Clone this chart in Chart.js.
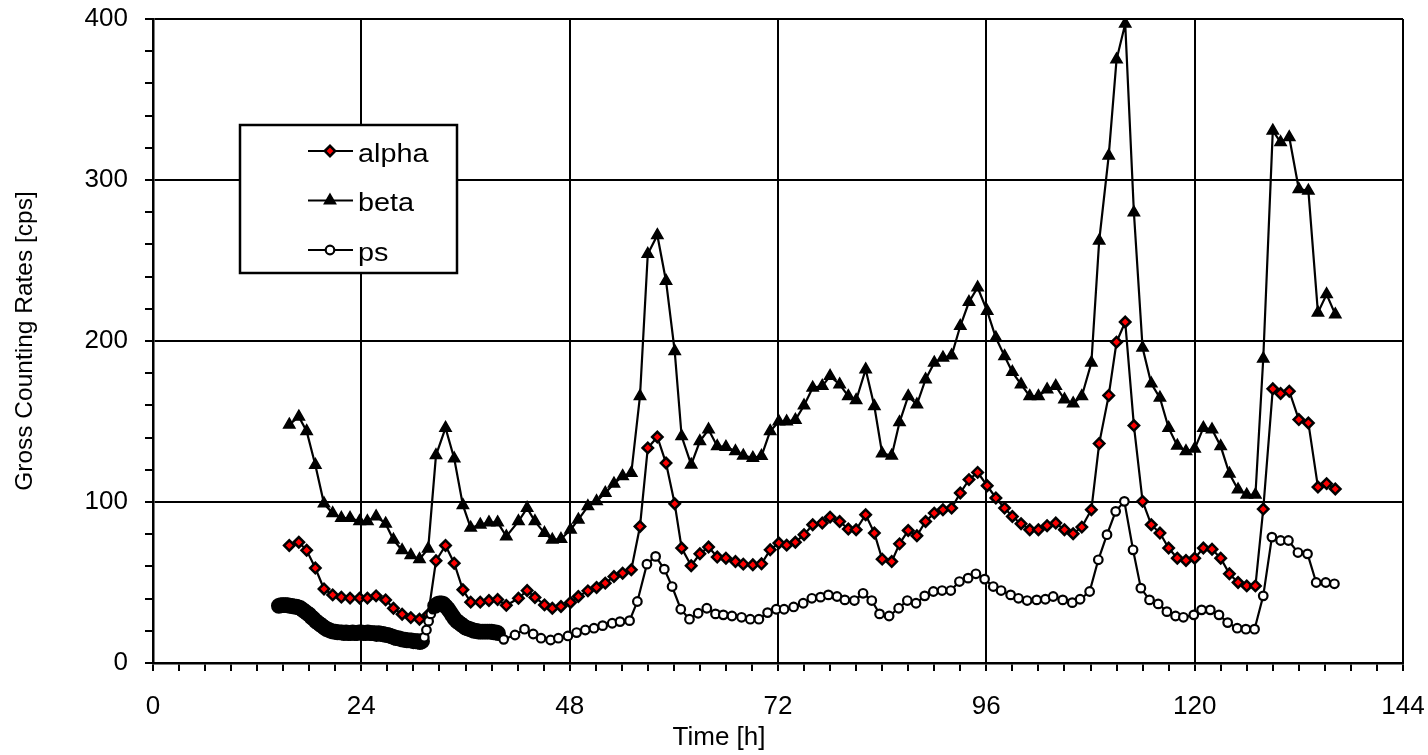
<!DOCTYPE html>
<html>
<head>
<meta charset="utf-8">
<script src="https://cdn.jsdelivr.net/npm/chart.js@4.4.1/dist/chart.umd.min.js"></script>
<style>
html,body{margin:0;padding:0;background:#ffffff;}
canvas{display:block;}
</style>
</head>
<body>
<canvas id="c" width="1428" height="755"></canvas>
<script>
// ---------------- data ----------------
// time stamps [h] shared by alpha and beta
const hours = [
  15.7, 16.8, 17.7, 18.7, 19.7, 20.7, 21.7, 22.7, 23.8, 24.7, 25.7, 26.8, 27.7, 28.7, 29.7, 30.7, 31.7, 32.6, 33.7, 34.7, 35.7, 36.6, 37.7, 38.7, 39.7, 40.7,
  42.1, 43.1, 44.0, 45.1, 46.0, 47.0, 48.1, 49.0, 50.1, 51.1, 52.1, 53.1, 54.1, 55.1, 56.1, 57.0, 58.1, 59.1, 60.1, 60.9,
  62.0, 63.0, 64.0, 65.0, 66.0, 67.1, 68.0, 69.1, 70.1, 71.1, 72.1, 73.0, 74.0, 75.0, 76.0, 77.1, 78.0, 79.1, 80.1, 81.0,
  82.1, 83.1, 84.0, 85.1, 86.0, 87.0, 88.0, 89.0, 90.0, 91.0, 92.0, 93.0, 94.0, 95.0, 96.1, 97.1, 98.1, 99.0, 100.0, 101.0,
  102.0, 103.0, 104.0, 105.0, 106.0, 107.0, 108.1, 109.0, 110.1, 111.0, 112.0, 113.0, 114.0, 115.0, 116.0, 117.0, 118.0, 119.0, 120.0, 121.0,
  122.0, 123.0, 124.0, 125.0, 126.0, 127.0, 127.9, 129.0, 129.9, 130.9, 132.0, 133.1, 134.2, 135.2, 136.2
];
const alphaValues = [
  73, 75, 70, 59, 46, 42.3, 40.9, 40.3, 40.3, 40.3, 41.7, 39.2, 34, 30.3, 28.2, 27.2, 30, 63.5, 73, 62, 45.5, 37.8, 37.8, 38.8, 39.4, 35.8,
  40.2, 45, 40.7, 36.1, 34, 35.1, 37.6, 41.3, 44.8, 46.9, 49.6, 53.7, 55.8, 57.9, 84.8, 133.6, 140.4, 124.2, 98.9, 71.4,
  60.4, 67.8, 72, 65.8, 65.1, 63, 61.4, 61, 61.6, 70.3, 74.5, 73.2, 75, 79.7, 85.9, 86.9, 90.6, 87.9, 83.2, 82.8,
  92.1, 80.7, 64.5, 63, 74, 82.3, 79, 87.9, 93.1, 95.2, 96.2, 105.6, 113.9, 118.4, 110.1, 102.5, 96.2, 91, 86.5, 82.8,
  82.8, 85.3, 86.9, 82.8, 80.3, 84.4, 95.2, 136.3, 166.2, 199.3, 211.8, 147.5, 100.4, 85.9, 80.7, 71.4, 65.1, 63.7, 65.1, 71.4,
  70.7, 65.1, 55.4, 50, 47.9, 47.9, 95.6, 170.3, 167.4, 168.8, 151.2, 149.1, 109.3, 111.4, 108.1
];
const betaValues = [
  148, 153, 144, 123, 99, 93, 90, 90, 88, 88, 91, 86.5, 76.5, 70, 67, 64.5, 71, 129, 146, 127, 98, 84, 85.9, 87.3, 87.3, 78.6,
  88, 96.2, 88, 80.7, 76.5, 77, 82.8, 89, 97.3, 100.4, 105.6, 111.4, 116, 118, 165.7, 254, 265.7, 237.3, 193.7, 140.8,
  123.2, 137.7, 145, 134.6, 134.2, 131.5, 128.8, 127.4, 128.5, 144, 150, 150, 151, 159.9, 170.9, 172, 178.2, 173, 165.7, 163.2,
  182.3, 159.5, 130.1, 128.8, 149.5, 165.7, 160.5, 176.1, 186.5, 189.6, 191, 209.3, 224.2, 233.2, 218.6, 202, 190.6, 180.7, 173, 165.7,
  165.7, 169.9, 172, 163.7, 161.2, 165.7, 186.5, 262.2, 315.1, 374.8, 397, 279.8, 195.8, 173.6, 164.7, 146, 135, 131.5, 133, 146,
  145, 134.6, 117.6, 107.7, 104.5, 104.5, 189, 330.6, 323.4, 326.5, 294.3, 293.3, 217.6, 229, 216.5
];
// ps: dense record (15 min) up to ~40 h, then hourly
const psHours = [
  14.5, 14.75, 15.0, 15.25, 15.5, 15.75, 16.0, 16.25, 16.5, 16.75, 17.0, 17.25, 17.5, 17.75, 18.0, 18.25, 18.5, 18.75, 19.0, 19.25,
  19.5, 19.75, 20.0, 20.25, 20.5, 20.75, 21.0, 21.25, 21.5, 21.75, 22.0, 22.25, 22.5, 22.75, 23.0, 23.25, 23.5, 23.75, 24.0, 24.25,
  24.5, 24.75, 25.0, 25.25, 25.5, 25.75, 26.0, 26.25, 26.5, 26.75, 27.0, 27.25, 27.5, 27.75, 28.0, 28.25, 28.5, 28.75, 29.0, 29.25,
  29.5, 29.75, 30.0, 30.25, 30.5, 30.75, 31.0, 31.25, 31.5, 31.75, 32.0, 32.25, 32.5, 32.75, 33.0, 33.25, 33.5, 33.75, 34.0, 34.25,
  34.5, 34.75, 35.0, 35.25, 35.5, 35.75, 36.0, 36.25, 36.5, 36.75, 37.0, 37.25, 37.5, 37.75, 38.0, 38.25, 38.5, 38.75, 39.0, 39.25,
  39.5, 39.75,
  40.4, 41.7, 42.8, 43.8, 44.7, 45.8, 46.7, 47.8, 48.8, 49.8, 50.8, 51.8, 52.9, 53.8, 54.9, 55.8, 56.9, 57.9, 58.9, 59.8,
  60.8, 61.8, 62.8, 63.8, 64.8, 65.7, 66.7, 67.8, 68.8, 69.8, 70.8, 71.8, 72.7, 73.8, 74.9, 75.9, 76.9, 77.8, 78.8, 79.7,
  80.8, 81.8, 82.8, 83.7, 84.8, 85.9, 86.9, 87.9, 88.9, 89.9, 90.9, 91.9, 92.9, 93.9, 94.8, 95.8, 96.8, 97.7, 98.8, 99.7,
  100.7, 101.8, 102.8, 103.7, 104.8, 105.9, 106.8, 107.9, 108.9, 109.9, 110.9, 111.9, 112.9, 113.8, 114.8, 115.8, 116.8, 117.8, 118.7, 119.9,
  120.8, 121.8, 122.8, 123.8, 124.9, 125.9, 126.9, 127.9, 128.9, 129.9, 130.8, 131.9, 133.0, 134.0, 135.1, 136.1
];
const psValues = [
  35.5, 36, 36, 36, 36, 35.5, 35.5, 35, 35, 34.5, 34, 33, 32, 31, 30, 28.5, 27.5, 26, 25, 24,
  23, 22, 21, 20.5, 20, 19.5, 19.5, 19, 19, 19, 18.5, 19, 18.5, 18.5, 19, 18.5, 18.5, 19, 19, 18.5,
  18.5, 19, 18.5, 18.5, 18.5, 18, 18.5, 18, 18, 17.5, 17.5, 17, 16.5, 16, 15.5, 15.5, 15, 14.5, 14.5, 14,
  14, 14, 13.5, 13.5, 13.5, 13, 13.5, 16, 20.5, 26, 30.5, 33.5, 35.5, 36.5, 37, 37, 36.5, 35, 33.5, 31.5,
  29.5, 27.5, 26, 25, 24, 23, 22, 21.5, 21, 20.5, 20, 20, 19.5, 19.5, 19.5, 19.5, 19.5, 19.5, 19.5, 19,
  19, 18.5,
  14.7, 17.4, 21, 18, 15.4, 14.3, 15.4, 16.8, 18.9, 20.5, 21.6, 23.2, 24.7, 25.7, 26.3, 38.2, 61.4, 66.2, 58.3, 47.5,
  33.4, 27.2, 30.9, 34, 30.5, 29.9, 29.2, 28.4, 27.2, 27.2, 31.3, 33.4, 33.4, 34.8, 37.1, 40.2, 40.9, 42.3, 41.3, 39.2,
  38.8, 43.3, 38.8, 30.5, 29.2, 34, 38.8, 37.1, 41.7, 44.4, 45, 45, 50.6, 52.7, 55.4, 52.1, 47.5, 45, 42.3, 40.2,
  38.8, 39.2, 39.6, 41.3, 39.2, 37.5, 39.6, 44.4, 64.1, 79.7, 94.2, 100.4, 70.3, 46.5, 39.2, 36.7, 31.9, 29.2, 28.4, 29.9,
  33, 33, 29.9, 25.1, 21.6, 21, 21, 41.7, 78.2, 76.1, 76.1, 68.6, 67.8, 50, 50, 49.2
];
const seriesNames = ['alpha', 'beta', 'ps'];
const xTickStep = 3, xLabelStep = 24, xMin = 0, xMax = 144;
const yTickStep = 20, yLabelStep = 100, yMin = 0, yMax = 400;
const xTitle = 'Time [h]';
const yTitle = 'Gross Counting Rates [cps]';

// ---------------- styles ----------------
const FONT = '"Liberation Sans", Arial, Helvetica, sans-serif';
const DENSE_END = 40;           // ps record is dense (overlapping markers) before this time
const RISE = [31.1, 32.4];      // steep part of the dense record where single markers are visible
const markerStyles = [
  { pointStyle: 'rectRot',  radius: 5.2, fill: '#ff0000', border: '#000000', borderWidth: 2.5 },
  { pointStyle: 'triangle', radius: 6.5, fill: '#000000', border: '#000000', borderWidth: 1.5 },
  { pointStyle: 'circle',   radius: 4.3, fill: '#ffffff', border: '#000000', borderWidth: 2.2 }
];
function toPoints(xs, ys) { return xs.map((x, i) => ({ x: x, y: ys[i] })); }
function isDenseBand(c) {
  return c.raw && c.raw.x < DENSE_END && !(c.raw.x > RISE[0] && c.raw.x < RISE[1]);
}

const boxLegend = {
  id: 'boxLegend',
  afterDatasetsDraw(chart) {
    const ctx = chart.ctx;
    const box = { x: 240, y: 125, w: 217, h: 148 };
    ctx.save();
    ctx.fillStyle = '#ffffff';
    ctx.fillRect(box.x, box.y, box.w, box.h);
    ctx.lineWidth = 2.5;
    ctx.strokeStyle = '#000000';
    ctx.strokeRect(box.x, box.y, box.w, box.h);
    chart.data.datasets.forEach((ds, k) => {
      const st = markerStyles[k];
      const y = 151 + k * 49.5;
      ctx.beginPath();
      ctx.lineWidth = 2.2;
      ctx.strokeStyle = '#000000';
      ctx.moveTo(308, y);
      ctx.lineTo(353, y);
      ctx.stroke();
      ctx.fillStyle = st.fill;
      ctx.strokeStyle = st.border;
      ctx.lineWidth = st.borderWidth;
      Chart.helpers.drawPoint(ctx, {
        pointStyle: st.pointStyle, radius: st.radius,
        borderWidth: st.borderWidth, rotation: 0
      }, 330, y);
      ctx.save();
      ctx.translate(358, y + 10.5);
      ctx.scale(1.13, 1);
      ctx.fillStyle = '#000000';
      ctx.font = '25.5px ' + FONT;
      ctx.textAlign = 'left';
      ctx.textBaseline = 'alphabetic';
      ctx.fillText(ds.label, 0, 0);
      ctx.restore();
    });
    ctx.restore();
  }
};

const chart = new Chart(document.getElementById('c'), {
  type: 'line',
  data: {
    datasets: [
      {
        label: seriesNames[0],
        data: toPoints(hours, alphaValues),
        borderColor: '#000000', borderWidth: 2.2,
        pointStyle: markerStyles[0].pointStyle, pointRadius: markerStyles[0].radius,
        pointBackgroundColor: markerStyles[0].fill, pointBorderColor: markerStyles[0].border,
        pointBorderWidth: markerStyles[0].borderWidth,
        tension: 0, order: 3
      },
      {
        label: seriesNames[1],
        data: toPoints(hours, betaValues),
        borderColor: '#000000', borderWidth: 2.2,
        pointStyle: markerStyles[1].pointStyle, pointRadius: markerStyles[1].radius,
        pointBackgroundColor: markerStyles[1].fill, pointBorderColor: markerStyles[1].border,
        pointBorderWidth: markerStyles[1].borderWidth,
        tension: 0, order: 2
      },
      {
        label: seriesNames[2],
        data: toPoints(psHours, psValues),
        borderColor: '#000000', borderWidth: 2.2,
        pointStyle: markerStyles[2].pointStyle,
        pointRadius: (c) => (isDenseBand(c) ? 6.8 : markerStyles[2].radius),
        pointBackgroundColor: (c) => (isDenseBand(c) ? '#000000' : markerStyles[2].fill),
        pointBorderColor: markerStyles[2].border,
        pointBorderWidth: markerStyles[2].borderWidth,
        tension: 0, order: 1
      }
    ]
  },
  options: {
    responsive: false,
    animation: false,
    devicePixelRatio: 1,
    events: [],
    layout: { padding: { top: 19, right: 0, left: 10, bottom: 0 } },
    plugins: {
      legend: { display: false },
      tooltip: { enabled: false },
      title: {
        display: true, text: xTitle, position: 'bottom', color: '#000000',
        font: { family: FONT, size: 26, weight: 'normal' },
        padding: { top: 0, bottom: 2 }
      }
    },
    scales: {
      x: {
        type: 'linear', min: xMin, max: xMax,
        afterFit(scale) {
          scale.height = 58.8;
          scale.paddingLeft = 0;
          scale.paddingRight = 25;
        },
        ticks: {
          stepSize: xTickStep, autoSkip: false, maxRotation: 0, minRotation: 0,
          color: '#000000', padding: 20,
          font: { family: FONT, size: 26 },
          callback: (v) => (v % xLabelStep === 0 ? String(v) : '')
        },
        grid: {
          color: (c) => (c.tick && c.tick.value % xLabelStep === 0 ? '#000000' : 'rgba(0,0,0,0)'),
          tickColor: '#000000', lineWidth: 2, tickWidth: 2, tickLength: 8, drawTicks: true
        },
        border: { display: true, color: '#000000', width: 2.5 }
      },
      y: {
        type: 'linear', min: yMin, max: yMax,
        afterFit(scale) {
          scale.width = 143;
          scale.paddingTop = 0;
          scale.paddingBottom = 0;
        },
        ticks: {
          stepSize: yTickStep, autoSkip: false,
          color: '#000000', padding: 17,
          font: { family: FONT, size: 26 },
          callback: (v) => (v % yLabelStep === 0 ? String(v) : '')
        },
        grid: {
          color: (c) => (c.tick && c.tick.value % yLabelStep === 0 ? '#000000' : 'rgba(0,0,0,0)'),
          tickColor: '#000000', lineWidth: 2, tickWidth: 2, tickLength: 8, drawTicks: true
        },
        border: { display: true, color: '#000000', width: 2.5 },
        title: {
          display: true, text: yTitle, color: '#000000',
          font: { family: FONT, size: 24.5, weight: 'normal' },
          padding: { top: 0.5, bottom: 0 }
        }
      }
    }
  },
  plugins: [boxLegend]
});
</script>
</body>
</html>
